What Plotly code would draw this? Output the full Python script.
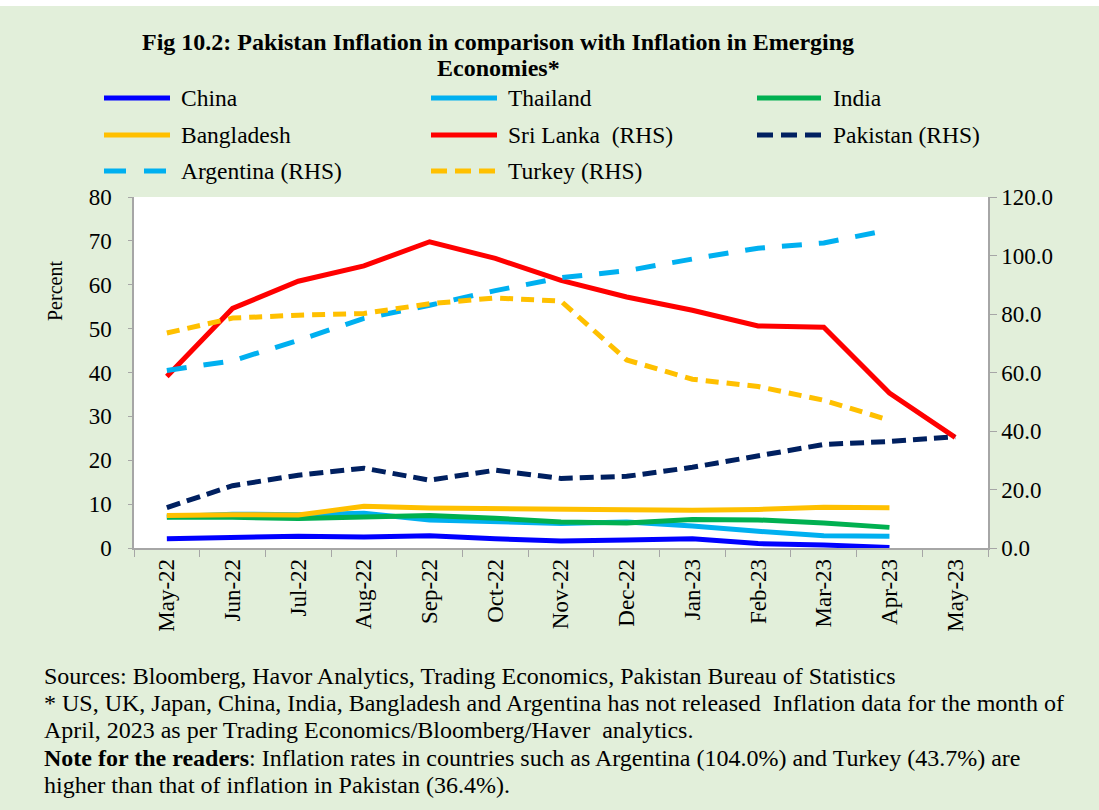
import plotly.graph_objects as go

months = ["May-22", "Jun-22", "Jul-22", "Aug-22", "Sep-22", "Oct-22", "Nov-22",
          "Dec-22", "Jan-23", "Feb-23", "Mar-23", "Apr-23", "May-23"]

china = [2.1, 2.5, 2.7, 2.5, 2.8, 2.1, 1.6, 1.8, 2.1, 1.0, 0.7, 0.1, None]
thailand = [7.1, 7.7, 7.6, 7.9, 6.4, 6.0, 5.6, 5.9, 5.0, 3.8, 2.8, 2.7, None]
india = [7.0, 7.0, 6.7, 7.0, 7.4, 6.8, 5.9, 5.7, 6.5, 6.4, 5.7, 4.7, None]
bangladesh = [7.4, 7.6, 7.5, 9.5, 9.1, 8.9, 8.9, 8.7, 8.6, 8.8, 9.3, 9.2, None]
sri_lanka = [39.1, 54.6, 60.8, 64.3, 69.8, 66.0, 61.0, 57.2, 54.2, 50.6, 50.3, 35.3, 25.2]
pakistan = [13.8, 21.3, 24.9, 27.3, 23.2, 26.6, 23.8, 24.5, 27.6, 31.5, 35.4, 36.4, 38.0]
argentina = [60.7, 64.0, 71.0, 78.5, 83.0, 88.0, 92.4, 94.8, 98.8, 102.5, 104.3, 108.8, None]
turkey = [73.5, 78.6, 79.6, 80.2, 83.5, 85.5, 84.4, 64.3, 57.7, 55.2, 50.5, 43.7, None]

left_ticks = [0, 10, 20, 30, 40, 50, 60, 70, 80]
right_ticks = [0, 20, 40, 60, 80, 100, 120]

title_lines = ["Fig 10.2: Pakistan Inflation in comparison with Inflation in Emerging",
               "Economies*"]
notes = [
    "Sources: Bloomberg, Havor Analytics, Trading Economics, Pakistan Bureau of Statistics",
    "* US, UK, Japan, China, India, Bangladesh and Argentina has not released  Inflation data for the month of",
    "April, 2023 as per Trading Economics/Bloomberg/Haver  analytics.",
    "<b>Note for the readers</b>: Inflation rates in countries such as Argentina (104.0%) and Turkey (43.7%) are",
    "higher than that of inflation in Pakistan (36.4%).",
]

# series: name, data, color, line dash, legend dash, axis
series = [
    ("China", china, "#0000FF", "solid", "solid", "y"),
    ("Thailand", thailand, "#00B0F0", "solid", "solid", "y"),
    ("India", india, "#00B050", "solid", "solid", "y"),
    ("Bangladesh", bangladesh, "#FFC000", "solid", "solid", "y"),
    ("Sri Lanka  (RHS)", sri_lanka, "#FF0000", "solid", "solid", "y"),
    ("Pakistan (RHS)", pakistan, "#002060", "14px,7px", "16px,8px", "y2"),
    ("Argentina (RHS)", argentina, "#00B0F0", "20px,17px", "22px,18px", "y2"),
    ("Turkey (RHS)", turkey, "#FFC000", "13px,8px", "16px,8px", "y2"),
]

TOP_OFFSET = 6  # page offset of the figure
W, H = 1099, 810 - TOP_OFFSET
# plot-area edges in page pixels
L, R, T, B = 134, 988, 197, 548
FONT = "Liberation Serif, Times New Roman, serif"


def px(x):
    return (x - L) / (R - L)


def py(y):
    return (B - y) / (B - T)


fig = go.Figure()
for name, data, color, dash, ldash, ax in series:
    fig.add_trace(go.Scatter(
        x=months, y=data, name=name, mode="lines",
        line=dict(color=color, width=5, dash=dash),
        yaxis=ax, showlegend=False, connectgaps=False,
    ))

# manual legend (3 columns)
leg_cols = [(104, 170, 179), (431, 497, 506), (757, 821, 831)]
leg_rows = [98, 135, 171]
shapes = []
annotations = []
for i, (name, data, color, dash, ldash, ax) in enumerate(series):
    c = leg_cols[i % 3]
    r = leg_rows[i // 3]
    shapes.append(dict(type="line", xref="paper", yref="paper",
                       x0=px(c[0]), x1=px(c[1]), y0=py(r), y1=py(r),
                       line=dict(color=color, width=5, dash=ldash)))
    annotations.append(dict(text=name, xref="paper", yref="paper",
                            x=px(c[2]), y=py(r), xanchor="left", yanchor="middle",
                            showarrow=False, font=dict(size=23.5, color="#000", family=FONT)))

for i, t in enumerate(title_lines):
    annotations.append(dict(text="<b>" + t + "</b>", xref="paper", yref="paper",
                            x=px(498), y=py([42, 68][i]), xanchor="center", yanchor="middle",
                            showarrow=False, font=dict(size=24, color="#000", family=FONT)))

for i, t in enumerate(notes):
    annotations.append(dict(text=t, xref="paper", yref="paper",
                            x=px(42), y=py([676, 703, 730, 758, 785][i]),
                            xanchor="left", yanchor="middle", showarrow=False,
                            font=dict(size=24, color="#000", family=FONT)))

annotations.append(dict(text="Percent", xref="paper", yref="paper",
                        x=px(55), y=py(291), xanchor="center", yanchor="middle",
                        textangle=-90, showarrow=False,
                        font=dict(size=20, color="#000", family=FONT)))

fig.update_layout(
    width=W, height=H,
    margin=dict(l=L, r=W - R, t=T - TOP_OFFSET, b=(H + TOP_OFFSET) - B, pad=0),
    paper_bgcolor="#E2EFDA",
    plot_bgcolor="#FFFFFF",
    font=dict(family=FONT, size=23, color="#000"),
    showlegend=False,
    shapes=shapes,
    annotations=annotations,
    xaxis=dict(
        type="category", categoryorder="array", categoryarray=months,
        tickangle=-90, tickson="boundaries", ticks="outside", ticklen=7,
        tickcolor="#A6A6A6", showline=True, linecolor="#A6A6A6", linewidth=1.5,
        showgrid=False, zeroline=False, tickfont=dict(size=23, family=FONT),
        range=[-0.5, len(months) - 0.5],
    ),
    yaxis=dict(
        range=[0, 80], tickvals=left_ticks, ticks="outside", ticklen=4,
        tickcolor="#A6A6A6", showline=True, linecolor="#A6A6A6", linewidth=1.5,
        showgrid=False, zeroline=False, tickfont=dict(size=23, family=FONT),
        ticklabelstandoff=12,
    ),
    yaxis2=dict(
        range=[0, 120], tickvals=right_ticks, tickformat=".1f", overlaying="y",
        side="right", ticks="outside", ticklen=7, tickcolor="#A6A6A6",
        showline=True, linecolor="#A6A6A6", linewidth=1.5, showgrid=False,
        zeroline=False, tickfont=dict(size=23, family=FONT),
    ),
)

fig.write_html(
    "out.html",
    post_script="document.body.style.margin='%dpx 0 0 0';document.body.style.overflow='hidden';" % TOP_OFFSET,
)
